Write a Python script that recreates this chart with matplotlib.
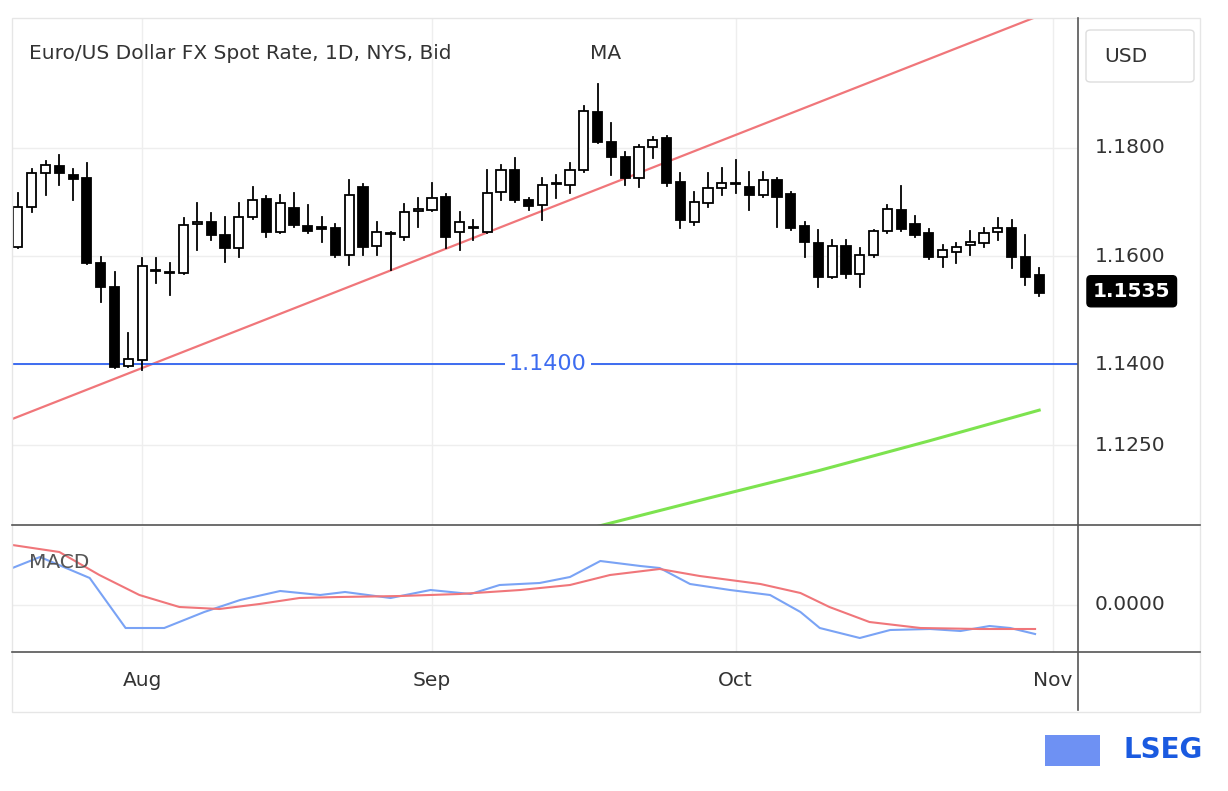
import matplotlib
matplotlib.use("Agg")
import matplotlib.pyplot as plt
from matplotlib.patches import Rectangle, FancyBboxPatch
import numpy as np

# OHLC per trading day, 21 Jul 2025 .. 31 Oct 2025
opens = [1.1617,1.1691,1.1754,1.1767,1.1750,1.1745,1.1587,1.1543,1.1397,1.1408,
         1.1575,1.1571,1.1569,1.1660,1.1663,1.1639,1.1615,1.1672,1.1706,1.1645,
         1.1689,1.1656,1.1653,1.1652,1.1602,1.1728,1.1619,1.1642,1.1635,1.1684,
         1.1685,1.1709,1.1645,1.1652,1.1645,1.1719,1.1759,1.1704,1.1695,1.1733,
         1.1732,1.1759,1.1867,1.1811,1.1783,1.1745,1.1802,1.1819,1.1737,1.1663,
         1.1698,1.1726,1.1734,1.1728,1.1713,1.1741,1.1715,1.1656,1.1624,1.1561,
         1.1619,1.1567,1.1602,1.1646,1.1685,1.1659,1.1643,1.1598,1.1608,1.1621,
         1.1624,1.1645,1.1652,1.1598,1.1565]
highs = [1.1717,1.1761,1.1776,1.1787,1.1761,1.1772,1.1598,1.1571,1.1458,1.1597,
         1.1597,1.1587,1.1670,1.1698,1.1680,1.1672,1.1698,1.1728,1.1712,1.1713,
         1.1717,1.1695,1.1672,1.1660,1.1741,1.1733,1.1663,1.1645,1.1696,1.1708,
         1.1735,1.1715,1.1682,1.1667,1.1759,1.1769,1.1782,1.1707,1.1745,1.1750,
         1.1772,1.1878,1.1918,1.1846,1.1793,1.1806,1.1820,1.1822,1.1754,1.1719,
         1.1754,1.1763,1.1778,1.1756,1.1756,1.1745,1.1719,1.1663,1.1648,1.1630,
         1.1630,1.1615,1.1648,1.1695,1.1730,1.1674,1.1650,1.1621,1.1624,1.1646,
         1.1652,1.1670,1.1667,1.1639,1.1578]
lows = [1.1615,1.1682,1.1713,1.1732,1.1704,1.1585,1.1515,1.1393,1.1395,1.1389,
        1.1550,1.1528,1.1566,1.1611,1.1630,1.1589,1.1598,1.1668,1.1635,1.1642,
        1.1654,1.1643,1.1626,1.1598,1.1584,1.1602,1.1602,1.1574,1.1630,1.1654,
        1.1683,1.1615,1.1611,1.1630,1.1642,1.1704,1.1700,1.1685,1.1667,1.1708,
        1.1717,1.1756,1.1809,1.1750,1.1732,1.1728,1.1782,1.1730,1.1652,1.1658,
        1.1691,1.1713,1.1717,1.1685,1.1710,1.1654,1.1648,1.1598,1.1543,1.1559,
        1.1560,1.1543,1.1598,1.1643,1.1646,1.1635,1.1595,1.1580,1.1587,1.1602,
        1.1617,1.1630,1.1578,1.1547,1.1526]
closes = [1.1691,1.1754,1.1769,1.1754,1.1743,1.1587,1.1543,1.1395,1.1410,1.1582,
          1.1572,1.1569,1.1658,1.1663,1.1639,1.1615,1.1672,1.1704,1.1645,1.1698,
          1.1658,1.1646,1.1650,1.1602,1.1713,1.1617,1.1645,1.1640,1.1682,1.1687,
          1.1708,1.1635,1.1663,1.1654,1.1717,1.1759,1.1704,1.1693,1.1732,1.1735,
          1.1759,1.1868,1.1811,1.1783,1.1745,1.1802,1.1815,1.1735,1.1667,1.1700,
          1.1726,1.1735,1.1733,1.1713,1.1741,1.1709,1.1652,1.1626,1.1561,1.1619,
          1.1567,1.1602,1.1646,1.1687,1.1650,1.1639,1.1598,1.1611,1.1617,1.1626,
          1.1643,1.1652,1.1598,1.1561,1.1532]

month_labels = ["Aug", "Sep", "Oct", "Nov"]
month_index = [9, 30, 52, 75]

price_ticks = [1.1800, 1.1600, 1.1400, 1.1250]
support_level = 1.1400
last_price = 1.1535

trend_idx = [9, 48]
trend_val = [1.1393, 1.1784]

ma_idx = [42, 50, 58, 66, 74]
ma_val = [1.1100, 1.1152, 1.1203, 1.1258, 1.1315]

macd_idx = [-0.4, 1.6, 5.2, 7.8, 10.6, 13.5, 16.1, 19.0, 21.9, 23.7, 27.0, 29.9, 32.8, 34.9, 37.8, 40.0, 42.2, 45.1, 46.5, 48.7, 51.6, 54.5, 56.7, 58.1, 61.0, 63.2, 66.1, 68.3, 70.4, 71.9, 73.7]
macd_val = [0.037, 0.048, 0.027, -0.023, -0.023, -0.007, 0.005, 0.014, 0.010, 0.013, 0.007, 0.015, 0.011, 0.020, 0.022, 0.028, 0.044, 0.039, 0.037, 0.021, 0.015, 0.010, -0.007, -0.023, -0.033, -0.025, -0.024, -0.026, -0.021, -0.023, -0.029]
sig_idx = [-0.4, 3.0, 5.9, 8.8, 11.7, 14.6, 17.5, 20.4, 23.3, 27.7, 32.0, 36.4, 40.0, 42.9, 46.5, 49.4, 53.8, 56.7, 58.8, 61.7, 65.4, 69.7, 73.7]
sig_val = [0.060, 0.053, 0.030, 0.010, -0.002, -0.004, 0.001, 0.007, 0.008, 0.009, 0.011, 0.015, 0.020, 0.030, 0.036, 0.029, 0.021, 0.012, -0.002, -0.017, -0.023, -0.024, -0.024]

W, H = 1228, 791
fig = plt.figure(figsize=(W/100, H/100), dpi=100)
fig.patch.set_facecolor("white")
FS = 14.5

def fx(px): return px / W
def fy(py): return 1 - py / H

L, R = 12, 1078
ax = fig.add_axes([fx(L), fy(525), fx(R) - fx(L), fy(18) - fy(525)])
ax2 = fig.add_axes([fx(L), fy(652), fx(R) - fx(L), fy(527) - fy(652)], sharex=ax)

xmin = -0.43
xmax = (1078 - 18) / 13.8
def p2y(py): return 1.18 - 0.000185 * (py - 148)
ax.set_xlim(xmin, xmax)
ax.set_ylim(p2y(525), p2y(18))

grid_c = "#eeeeee"
for t in price_ticks:
    ax.axhline(t, color=grid_c, lw=1, zorder=0)
for m in month_index:
    ax.axvline(m, color=grid_c, lw=1, zorder=0)
    ax2.axvline(m, color=grid_c, lw=1, zorder=0)

bw = 0.66
for i, (o, h, l, c) in enumerate(zip(opens, highs, lows, closes)):
    ax.plot([i, i], [l, h], color="black", lw=1.3, zorder=3)
    lo, hi = min(o, c), max(o, c)
    hgt = max(hi - lo, 0.00025)
    face = "white" if c >= o else "black"
    ax.add_patch(Rectangle((i - bw/2, lo), bw, hgt, facecolor=face,
                           edgecolor="black", lw=1.3, zorder=4))

slope = (trend_val[1] - trend_val[0]) / (trend_idx[1] - trend_idx[0])
xs = np.array([xmin, 73.7])
ax.plot(xs, trend_val[0] + slope * (xs - trend_idx[0]), color="#f0767a", lw=1.6, zorder=2)

ax.axhline(support_level, color="#3d6cf0", lw=1.4, zorder=2)
ax.text(38.4, support_level, "1.1400", color="#3d6cf0", fontsize=16, ha="center", va="center",
        bbox=dict(facecolor="white", edgecolor="none", pad=3), zorder=5)

ax.plot(ma_idx, ma_val, color="#7de34f", lw=2.2, zorder=2)

ax.text(0.016, 0.93, "Euro/US Dollar FX Spot Rate, 1D, NYS, Bid", transform=ax.transAxes,
        fontsize=FS, color="#333333", va="center", ha="left")
ax.text((590 - 12) / (1078 - 12), 0.93, "MA", transform=ax.transAxes,
        fontsize=FS, color="#333333", va="center", ha="left")

for a in (ax, ax2):
    a.set_xticks([])
    a.set_yticks([])
    for s in a.spines.values():
        s.set_visible(False)

ax2.set_ylim(-0.047, 0.078)
ax2.axhline(0, color=grid_c, lw=1, zorder=0)
ax2.plot(macd_idx, macd_val, color="#7aa3f5", lw=1.5, zorder=3)
ax2.plot(sig_idx, sig_val, color="#f0767a", lw=1.5, zorder=3)
ax2.text(0.016, 0.72, "MACD", transform=ax2.transAxes, fontsize=FS, color="#555555", va="center")

lc = "#555555"
fig.add_artist(plt.Line2D([fx(12), fx(1200)], [fy(525), fy(525)], color=lc, lw=1.2))
fig.add_artist(plt.Line2D([fx(12), fx(1200)], [fy(652), fy(652)], color=lc, lw=1.2))
fig.add_artist(plt.Line2D([fx(1078), fx(1078)], [fy(18), fy(710)], color=lc, lw=1.2))
fig.add_artist(Rectangle((fx(12), fy(712)), fx(1200) - fx(12), fy(18) - fy(712),
                         transform=fig.transFigure, fill=False, edgecolor="#e6e6e6", lw=1))

def data_to_figy(v):
    disp = ax.transData.transform((0, v))
    return fig.transFigure.inverted().transform(disp)[1]
for t in price_ticks:
    fig.text(fx(1095), data_to_figy(t), f"{t:.4f}", fontsize=FS, color="#333333", va="center")
fig.text(fx(1095), fy(605), "0.0000", fontsize=FS, color="#333333", va="center")
fig.text(fx(1093), data_to_figy(last_price), f"{last_price:.4f}", fontsize=FS, color="white",
         va="center", fontweight="bold",
         bbox=dict(boxstyle="round,pad=0.3,rounding_size=0.2", facecolor="black", edgecolor="black"))
fig.add_artist(FancyBboxPatch((fx(1086), fy(82)), fx(1194) - fx(1086), fy(30) - fy(82),
                              boxstyle="round,pad=0,rounding_size=0.004", transform=fig.transFigure,
                              facecolor="white", edgecolor="#dddddd", lw=1))
fig.text(fx(1104), fy(57), "USD", fontsize=FS, color="#333333", va="center")

for lab, m in zip(month_labels, month_index):
    disp = ax.transData.transform((m, 0))
    x = fig.transFigure.inverted().transform(disp)[0]
    fig.text(x, fy(681), lab, fontsize=FS, color="#333333", ha="center", va="center")

fig.text(fx(1203), fy(750), "LSEG", fontsize=20, color="#1a5ae0", fontweight="bold", ha="right", va="center")
fig.add_artist(Rectangle((fx(1045), fy(766)), fx(1100) - fx(1045), fy(735) - fy(766),
                         transform=fig.transFigure, facecolor="#3d6cf0", edgecolor="none", alpha=0.75))

fig.savefig("out.png", dpi=100)
